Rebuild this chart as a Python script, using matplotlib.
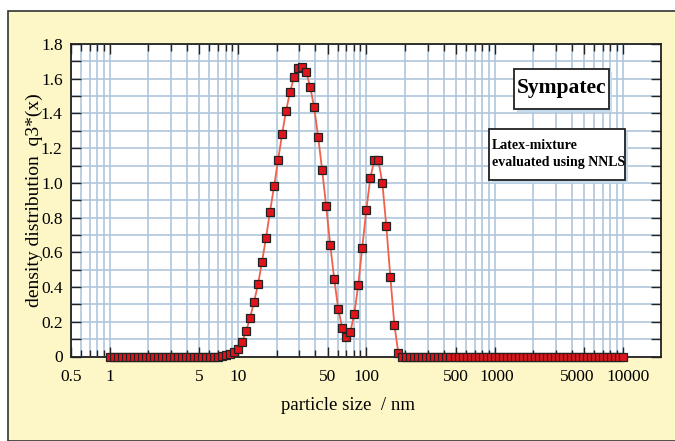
import matplotlib
matplotlib.use("Agg")
import matplotlib.pyplot as plt
from matplotlib.patches import Rectangle
from matplotlib.transforms import ScaledTranslation
from matplotlib.ticker import FixedLocator, LogLocator, MultipleLocator, NullFormatter

# ---------------- data ----------------
size_nm = [
    1.0, 1.075, 1.155, 1.241, 1.334, 1.433, 1.54, 1.655, 1.778, 1.911, 2.054, 2.207, 2.371, 2.548, 2.738, 2.943,
    3.162, 3.398, 3.652, 3.924, 4.217, 4.532, 4.87, 5.233, 5.623, 6.043, 6.494, 6.978, 7.499, 8.058, 8.66, 9.306,
    10.0, 10.75, 11.55, 12.41, 13.34, 14.33, 15.4, 16.55, 17.78, 19.11, 20.54, 22.07, 23.71, 25.48, 27.38, 29.43,
    31.62, 33.98, 36.52, 39.24, 42.17, 45.32, 48.7, 52.33, 56.23, 60.43, 64.94, 69.78, 74.99, 80.58, 86.6, 93.06,
    100.0, 107.5, 115.5, 124.1, 133.4, 143.3, 154.0, 165.5, 177.8, 191.1, 205.4, 220.7, 237.1, 254.8, 273.8, 294.3,
    316.2, 339.8, 365.2, 392.4, 421.7, 453.2, 487.0, 523.3, 562.3, 604.3, 649.4, 697.8, 749.9, 805.8, 866.0, 930.6,
    1000.0, 1075.0, 1155.0, 1241.0, 1334.0, 1433.0, 1540.0, 1655.0, 1778.0, 1911.0, 2054.0, 2207.0, 2371.0, 2548.0, 2738.0, 2943.0,
    3162.0, 3398.0, 3652.0, 3924.0, 4217.0, 4532.0, 4870.0, 5233.0, 5623.0, 6043.0, 6494.0, 6978.0, 7499.0, 8058.0, 8660.0, 9306.0,
    10000.0,
]

q3_density = [
    0, 0, 0, 0, 0, 0, 0, 0, 0, 0, 0, 0, 0, 0, 0, 0,
    0, 0, 0, 0, 0, 0, 0, 0, 0, 0, 0, 0, 0.003, 0.006, 0.012, 0.025,
    0.045, 0.083, 0.145, 0.22, 0.315, 0.415, 0.545, 0.685, 0.835, 0.98, 1.13, 1.28, 1.415, 1.525, 1.61, 1.66,
    1.67, 1.64, 1.555, 1.435, 1.265, 1.073, 0.865, 0.645, 0.448, 0.275, 0.165, 0.111, 0.142, 0.242, 0.414, 0.627,
    0.842, 1.029, 1.131, 1.131, 1.0, 0.75, 0.458, 0.183, 0.02, 0, 0, 0, 0, 0, 0, 0,
    0, 0, 0, 0, 0, 0, 0, 0, 0, 0, 0, 0, 0, 0, 0, 0,
    0, 0, 0, 0, 0, 0, 0, 0, 0, 0, 0, 0, 0, 0, 0, 0,
    0, 0, 0, 0, 0, 0, 0, 0, 0, 0, 0, 0, 0, 0, 0, 0,
    0,
]

x_tick_values = [0.5, 1, 5, 10, 50, 100, 500, 1000, 5000, 10000]
x_tick_labels = ["0.5", "1", "5", "10", "50", "100", "500", "1000", "5000", "10000"]
y_tick_values = [0, 0.2, 0.4, 0.6, 0.8, 1.0, 1.2, 1.4, 1.6, 1.8]
y_tick_labels = ["0", "0.2", "0.4", "0.6", "0.8", "1.0", "1.2", "1.4", "1.6", "1.8"]

# ---------------- figure ----------------
W, H = 675, 441
plt.rcParams["font.family"] = ["Liberation Serif", "DejaVu Serif"]
fig = plt.figure(figsize=(W / 100, H / 100), dpi=100, facecolor="white")

def fx(px):
    return px / W

def fy(py):
    return 1 - py / H

# yellow panel
fig.patches.append(Rectangle((fx(8), 0), 1.0, fy(11), transform=fig.transFigure,
                             facecolor="#fdf7c8", edgecolor="#333333", lw=1.2, zorder=-10))

ax_l, ax_r, ax_t, ax_b = 71, 661, 44, 356.5
ax = fig.add_axes([fx(ax_l), fy(ax_b), fx(ax_r - ax_l), (ax_b - ax_t) / H])
ax.set_zorder(1)
ax.set_facecolor("white")

ax.plot(size_nm, q3_density, color="#f0604a", lw=1.3, zorder=3)
ax.plot(size_nm, q3_density, ls="none", marker="s", markersize=6.2,
        markerfacecolor="#e0141c", markeredgecolor="#222222", markeredgewidth=0.9, zorder=4,
        clip_on=False)

ax.set_xscale("log")
ax.set_xlim(0.5, 19800)
ax.set_ylim(0, 1.8)

ax.xaxis.set_major_locator(FixedLocator(x_tick_values))
ax.set_xticklabels(x_tick_labels)
ax.xaxis.set_minor_locator(LogLocator(base=10, subs=[1, 2, 3, 4, 6, 7, 8, 9]))
ax.xaxis.set_minor_formatter(NullFormatter())
ax.yaxis.set_major_locator(FixedLocator(y_tick_values))
ax.set_yticklabels(y_tick_labels)
ax.yaxis.set_minor_locator(MultipleLocator(0.1))

ax.set_axisbelow(True)
ax.grid(which="both", color="#afc7db", lw=1.2)

ax.tick_params(which="both", direction="in", top=True, right=True, color="#222222",
               labelsize=12.5, width=1.0)
ax.tick_params(axis="x", which="major", length=7, pad=9)
ax.tick_params(axis="x", which="minor", length=5)
ax.tick_params(axis="y", which="major", length=7, pad=6)
ax.tick_params(axis="y", which="minor", length=7)

# nudge crowded labels apart (as in the original)
nudges_px = {"5000": -7, "10000": 5, "1000": 2}
for lab in ax.get_xticklabels():
    d = nudges_px.get(lab.get_text())
    if d:
        lab.set_transform(lab.get_transform() + ScaledTranslation(d / 100, 0, fig.dpi_scale_trans))

for sp in ax.spines.values():
    sp.set_linewidth(1.3)
    sp.set_color("#222222")

ax.set_xlabel("particle size  / nm", fontsize=13.5)
ax.xaxis.set_label_coords((348 - ax_l) / (ax_r - ax_l), -(397 - ax_b) / (ax_b - ax_t))
ax.set_ylabel("density distribution  q3*(x)", fontsize=14)
ax.yaxis.set_label_coords(-(ax_l - 43) / (ax_r - ax_l), 0.5)

# annotation boxes with shadows
def shadow_box(x0, y0, x1, y1, off=4):
    fig.patches.append(Rectangle((fx(x0 + off), fy(y1 + off)), fx(x1 - x0), (y1 - y0) / H,
                                 transform=fig.transFigure, facecolor="#c4dcee", edgecolor="none", zorder=10))
    fig.patches.append(Rectangle((fx(x0), fy(y1)), fx(x1 - x0), (y1 - y0) / H,
                                 transform=fig.transFigure, facecolor="white", edgecolor="#222222", lw=1.3, zorder=11))

shadow_box(514, 69, 609, 109, off=3)
fig.text(fx(562), fy(88), "Sympatec", ha="center", va="center", fontsize=15.5, fontweight="bold", zorder=12)

shadow_box(489, 129, 625, 180, off=3)
fig.text(fx(492), fy(154), "Latex-mixture\nevaluated using NNLS", ha="left", va="center",
         fontsize=10, fontweight="bold", linespacing=1.35, zorder=12)

fig.savefig("out.png", dpi=100, facecolor=fig.get_facecolor())
